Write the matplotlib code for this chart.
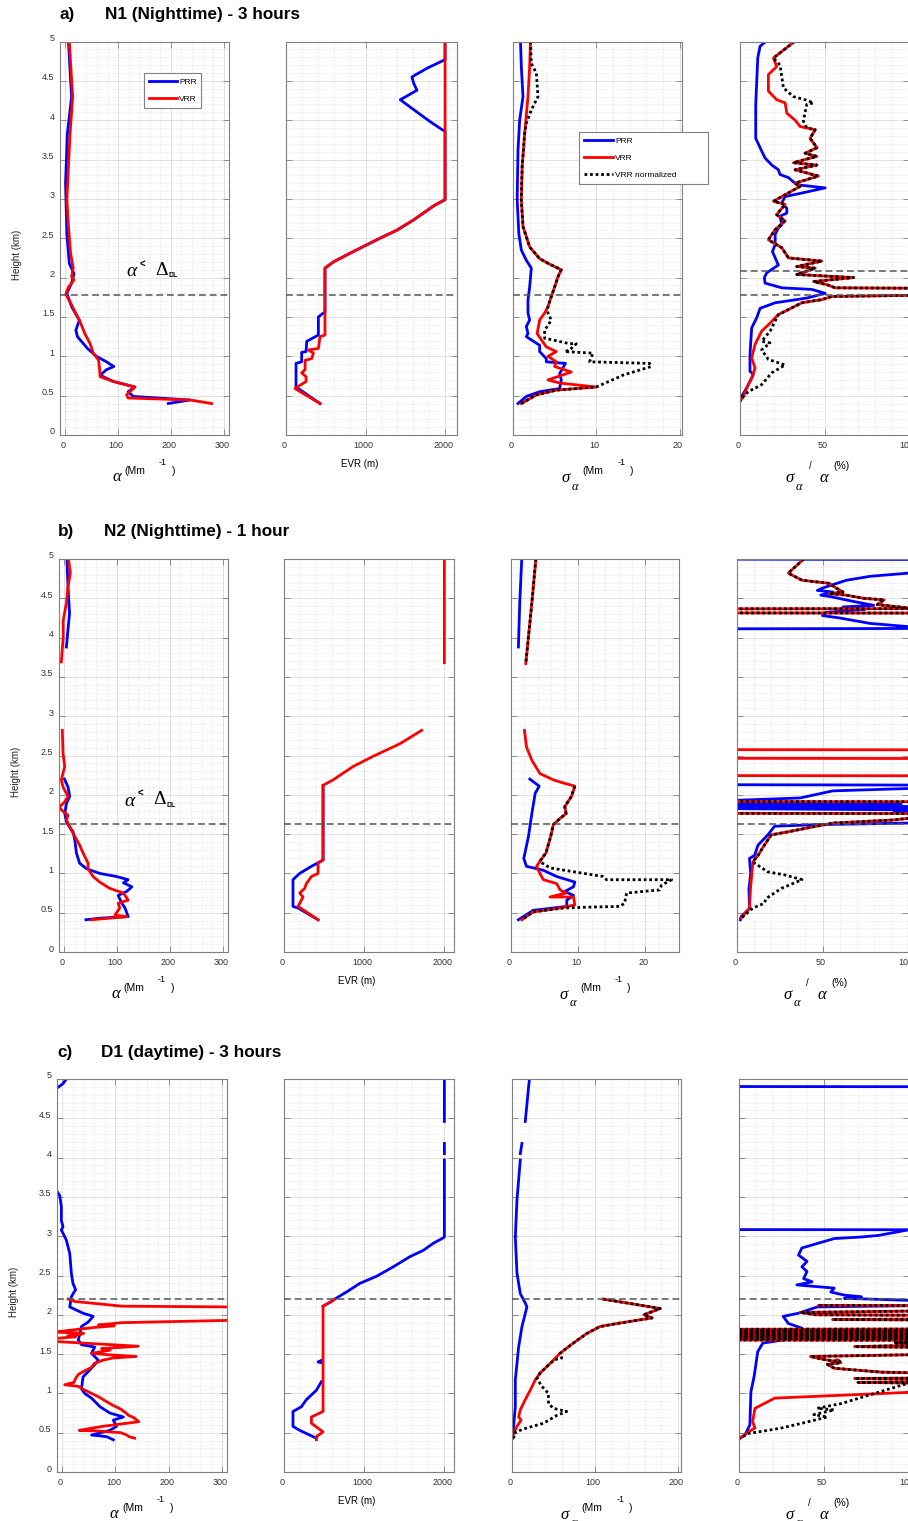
# plot.py  - lidar extinction / EVR / uncertainty profiles, 3 cases x 4 panels
import numpy as np
import matplotlib.pyplot as plt
import matplotlib.transforms as mtransforms
from matplotlib.lines import Line2D
from matplotlib.ticker import MultipleLocator

plt.rcParams['font.family'] = ['Liberation Sans', 'DejaVu Sans']

BLUE, RED = '#0000ff', '#ff0000'
NA = (np.nan, np.nan)
SERIF = ['Liberation Serif', 'DejaVu Serif']

# ---------------------------------------------------------------- data
# every list holds (height km, value) pairs; NA = gap

# ---- a) N1 nighttime, 3 h
a_alpha_prr = [(5.0, 6), (4.51, 10), (4.30, 12), (3.83, 4), (3.20, 0.5), (2.56, 3), (2.18, 7.6),
               (2.05, 16.5), (1.93, 12), (1.80, 3), (1.63, 12), (1.46, 26.6), (1.33, 20), (1.25, 23),
               (1.10, 42), (1.0, 59), (0.93, 78), (0.87, 92), (0.83, 78), (0.76, 66), (0.68, 91),
               (0.61, 132), (0.55, 119), (0.49, 129), (0.445, 236), (0.40, 195)]
a_alpha_vrr = [(5.0, 7.6), (4.51, 12), (4.30, 14), (3.83, 9), (3.41, 6), (2.99, 3), (2.65, 6),
               (2.31, 10), (2.12, 15), (2.01, 12), (1.97, 16.5), (1.88, 6), (1.79, 1), (1.69, 9),
               (1.57, 18), (1.44, 28), (1.29, 37), (1.16, 47), (1.04, 53), (0.95, 63), (0.87, 64.5),
               (0.74, 66), (0.68, 91), (0.61, 132), (0.51, 116), (0.47, 119), (0.445, 236), (0.40, 277)]
a_evr_prr = [(5.0, 2000), (4.77, 2000), (4.66, 1773), (4.55, 1584), (4.47, 1605), (4.38, 1647),
             (4.26, 1437), (4.15, 1584), (3.98, 1815), (3.88, 1962), (3.86, 2000), (2.99, 2000),
             (2.92, 1870), (2.73, 1600), (2.60, 1390), (2.48, 1140), (2.31, 806), (2.20, 597),
             (2.12, 490), (1.56, 490), (1.55, 470), (1.50, 407), (1.27, 407), (1.19, 261),
             (1.06, 252), (1.05, 197), (0.93, 197), (0.91, 126), (0.61, 126), (0.40, 428)]
a_evr_vrr = [(5.0, 2000), (2.99, 2000), (2.92, 1870), (2.73, 1600), (2.60, 1390), (2.48, 1140),
             (2.31, 806), (2.20, 597), (2.12, 490), (1.27, 490), (1.25, 428), (1.10, 407),
             (1.08, 282), (1.04, 345), (0.97, 323), (0.95, 240), (0.83, 240), (0.79, 197),
             (0.74, 252), (0.68, 252), (0.59, 113), (0.40, 428)]
a_sig_prr = [(5.0, 0.9), (4.68, 1.0), (4.3, 1.2), (4.0, 0.8), (3.62, 0.6), (2.99, 0.5), (2.56, 0.7),
             (2.35, 1.0), (2.22, 1.6), (2.12, 2.2), (1.88, 2.0), (1.72, 1.8), (1.55, 1.8),
             (1.46, 2.0), (1.38, 1.6), (1.29, 1.8), (1.25, 1.6), (1.14, 3.2), (1.06, 3.2),
             (0.97, 4.0), (0.93, 4.0), (0.91, 6.3), (0.78, 5.6), (0.70, 5.8), (0.59, 5.6),
             (0.55, 3.2), (0.49, 1.6), (0.40, 0.6)]
a_sig_vrr = [(5.0, 2.1), (4.68, 2.0), (4.3, 1.8), (3.83, 1.4), (3.41, 1.1), (2.99, 1.0), (2.65, 1.2),
             (2.39, 2.0), (2.24, 3.2), (2.16, 4.6), (2.10, 5.8), (2.01, 5.4), (1.88, 5.0),
             (1.76, 4.6), (1.63, 4.2), (1.55, 3.8), (1.46, 3.2), (1.29, 2.9), (1.21, 3.4),
             (1.12, 4.0), (1.06, 5.2), (1.0, 4.2), (0.93, 5.2), (0.87, 5.0), (0.80, 7.0),
             (0.70, 4.2), (0.66, 5.6), (0.61, 10), (0.57, 5.2), (0.51, 2.8), (0.40, 1.0)]
a_sig_norm = [(5.0, 2.1), (4.72, 2.2), (4.6, 2.8), (4.3, 3.0), (4.13, 2.2), (3.96, 1.6), (3.83, 1.4),
              (3.41, 1.1), (2.99, 1.0), (2.65, 1.2), (2.39, 2.0), (2.24, 3.2), (2.16, 4.6),
              (2.10, 5.8), (2.01, 5.4), (1.88, 5.0), (1.76, 4.6), (1.63, 4.2), (1.55, 4.2),
              (1.46, 4.6), (1.33, 3.8), (1.23, 3.8), (1.16, 6.8), (1.16, 7.6), (1.08, 6.8),
              (1.06, 6.2), (1.04, 9.6), (0.93, 9.2), (0.91, 16.4), (0.87, 16.6), (0.76, 13.2),
              (0.74, 12.8), (0.61, 10), (0.57, 5.2), (0.51, 2.8), (0.40, 1.0)]
a_rel_prr = [(5.0, 15.2), (4.94, 11.9), (4.79, 10.5), (4.2, 9.3), (3.77, 9.3), (3.65, 11.9),
             (3.52, 14.8), (3.43, 18.8), (3.37, 22.7), (3.31, 23.7), (3.27, 28.7), (3.18, 33.6),
             (3.14, 50.4), (3.07, 35.6), (3.03, 26.7), (2.95, 24.7), (2.88, 27.7), (2.82, 27.7),
             (2.78, 23.7), (2.67, 24.7), (2.63, 22.7), (2.55, 20.8), (2.42, 20.8), (2.33, 19.2),
             (2.16, 22.7), (2.06, 15.8), (2.0, 14.4), (1.93, 14.8), (1.87, 24.7), (1.85, 42.5),
             (1.80, 50.4), (1.74, 39.5), (1.68, 20.8), (1.61, 11.9), (1.49, 9.9), (1.36, 6.9),
             (1.02, 5.9), (0.81, 5.9), (0.77, 7.9), (0.60, 4), (0.49, 1), (0.43, 0)]
a_rel_vrr = [(5.0, 32.2), (4.94, 28.7), (4.79, 19.8), (4.68, 21.7), (4.58, 16.8), (4.37, 16.8),
             (4.26, 21.7), (4.22, 26.7), (4.09, 27.7), (4.0, 32.6), (3.92, 35.6), (3.90, 39.5),
             (3.88, 44.5), (3.77, 41.5), (3.65, 45.5), (3.58, 38.5), (3.54, 45.5), (3.46, 31.6),
             (3.43, 45.5), (3.37, 32.6), (3.29, 46.4), (3.20, 32.6), (3.16, 35.6), (2.97, 19.8),
             (2.93, 26.7), (2.80, 21.7), (2.72, 26.7), (2.61, 20.8), (2.48, 16.8), (2.38, 24.7),
             (2.25, 28.7), (2.21, 48.4), (2.14, 33.6), (2.12, 44.5), (2.04, 33.6), (2.0, 67.2),
             (1.95, 43.5), (1.91, 51.4), (1.87, 56.3), (1.86, 150), (1.79, 150), (1.76, 54.3),
             (1.72, 48.4), (1.68, 36.6), (1.53, 22.7), (1.40, 16.8), (1.32, 12.8), (1.15, 8.9),
             (0.98, 6.9), (0.85, 8.9), (0.72, 6.9), (0.64, 4.9), (0.49, 2), (0.43, 0)]
a_rel_norm = [(5.0, 32.2), (4.94, 28.7), (4.79, 19.8), (4.70, 23.7), (4.41, 25.7), (4.30, 31.6),
              (4.26, 38.5), (4.22, 43.5), (4.20, 39.5), (3.99, 37.5), (3.90, 39.5), (3.88, 44.5),
              (3.77, 41.5), (3.65, 45.5), (3.58, 38.5), (3.54, 45.5), (3.46, 31.6), (3.43, 45.5),
              (3.37, 32.6), (3.29, 46.4), (3.20, 32.6), (3.16, 35.6), (2.97, 19.8), (2.93, 26.7),
              (2.80, 21.7), (2.72, 26.7), (2.61, 20.8), (2.48, 16.8), (2.38, 24.7), (2.25, 28.7),
              (2.21, 48.4), (2.14, 33.6), (2.12, 44.5), (2.04, 33.6), (2.0, 67.2), (1.95, 43.5),
              (1.91, 51.4), (1.87, 56.3), (1.86, 150), (1.79, 150), (1.76, 54.3), (1.72, 48.4),
              (1.68, 36.6), (1.53, 22.7), (1.32, 17.8), (1.19, 12.8), (1.17, 17.8), (1.08, 12.8),
              (0.96, 16.8), (0.89, 26.7), (0.79, 18.8), (0.64, 12.8), (0.55, 4.9), (0.49, 2), (0.43, 0)]

# ---- b) N2 nighttime, 1 h
b_alpha_prr = [(5.0, 5), (4.65, 7), (4.31, 10), (4.1, 7), (3.88, 4), NA, (2.2, 0.4), (2.1, 7),
               (1.98, 10.3), (1.89, 4), (1.76, 1), (1.66, 4), (1.62, 7), (1.53, 16.6), (1.42, 20),
               (1.26, 23), (1.13, 29), (1.06, 42), (1.0, 67), (0.96, 99), (0.92, 121), (0.88, 112),
               (0.83, 128), (0.77, 118), (0.72, 102), (0.62, 109), (0.56, 115), (0.45, 121),
               (0.43, 67), (0.41, 41)]
b_alpha_vrr = [(5.0, 8), (4.82, 11.5), (4.65, 7), (4.44, 4), (4.22, -2), (4.01, -2), (3.69, -5.6), NA,
               (2.82, -3.7), (2.53, -2.4), (2.36, 0.8), (2.19, -5.6), (2.1, -2.4), (1.98, 7),
               (1.91, 0.8), (1.84, -10), (1.79, -2.4), (1.74, 7), (1.68, 4), (1.55, 13.4),
               (1.47, 20), (1.36, 29), (1.26, 35.6), (1.13, 45), (1.06, 45), (0.96, 54.6),
               (0.89, 67), (0.81, 86), (0.75, 112), (0.66, 121), (0.62, 102), (0.56, 105),
               (0.47, 96), (0.45, 118), (0.41, 51.5)]
b_evr_prr = [(2.12, 487), (1.17, 487), (1.09, 342), (1.0, 196), (0.92, 112), (0.58, 112),
             (0.56, 175), (0.41, 425)]
b_evr_vrr = [(5.0, 2000), (3.68, 2000), NA, (2.82, 1717), (2.65, 1446), (2.49, 1112), (2.36, 862),
             (2.19, 612), (2.12, 487), (1.17, 487), (1.13, 425), (1.0, 425), (0.96, 342),
             (0.87, 279), (0.81, 258), (0.75, 196), (0.70, 237), (0.58, 175), (0.41, 425)]
b_sig_prr = [(5.0, 1.6), (4.44, 1.3), (3.88, 1.1), NA, (2.2, 2.8), (2.11, 4.2), (2.02, 3.6),
             (1.76, 3.1), (1.47, 2.6), (1.19, 1.9), (1.09, 2.3), (1.04, 4.8), (0.96, 6.8),
             (0.89, 9.5), (0.83, 9.3), (0.77, 8.0), (0.72, 9.3), (0.66, 8.3), (0.58, 8.3),
             (0.53, 3.3), (0.41, 1.1)]
b_sig_vrr = [(5.0, 3.7), (4.44, 3.1), (3.67, 2.2), NA, (2.82, 2.0), (2.61, 2.3), (2.44, 3.1),
             (2.27, 4.3), (2.19, 6.3), (2.15, 7.8), (2.11, 9.5), (1.98, 9.0), (1.85, 8.0),
             (1.76, 8.2), (1.70, 7.3), (1.62, 6.3), (1.47, 5.9), (1.26, 5.2), (1.19, 4.6),
             (1.09, 3.8), (1.0, 4.3), (0.92, 4.8), (0.87, 6.8), (0.79, 7.3), (0.75, 8.2),
             (0.70, 5.8), (0.70, 9.3), (0.60, 9.5), (0.56, 7.3), (0.51, 3.3), (0.41, 1.6)]
b_sig_norm = [(5.0, 3.7), (4.44, 3.1), (3.67, 2.2), NA, (2.11, 9.5), (1.98, 9.0), (1.85, 8.0),
              (1.76, 8.2), (1.70, 7.3), (1.62, 6.3), (1.47, 5.9), (1.26, 5.2), (1.19, 4.6),
              (1.15, 4.3), (1.07, 5.8), (0.96, 13.7), (0.92, 14.2), (0.92, 23.9), (0.85, 22.4),
              (0.79, 22.1), (0.75, 17.2), (0.62, 16.9), (0.58, 16.2), (0.57, 11.2), (0.56, 7.8),
              (0.51, 3.3), (0.41, 1.6)]
b_rel_prr = [(5.0, -50), (4.99, 200), (4.86, 150), (4.82, 100), (4.78, 78), (4.73, 64), (4.63, 50),
             (4.60, 47), (4.58, 56), (4.54, 49), (4.52, 55), (4.46, 68), (4.41, 80), (4.39, 62),
             (4.36, 75), (4.32, 52), (4.28, 50), (4.25, 60), (4.18, 78), (4.14, 100), (4.12, 200),
             (4.11, -50), NA, (2.13, -50), (2.12, 200), (2.08, 100), (2.05, 56), (1.96, 37),
             (1.89, -50), (1.88, 96), (1.875, -50), (1.835, 200), (1.83, -50), (1.81, 90),
             (1.80, 100), (1.79, 92), (1.78, 200), (1.65, 120), (1.64, 100), (1.62, 46), (1.60, 22),
             (1.49, 18), (1.36, 12.3), (1.23, 10.3), (1.19, 7.3), (1.0, 8), (0.8, 7), (0.55, 7.3),
             (0.45, 2.4), (0.41, 2)]
b_rel_vrr = [(5.0, 39), (4.9, 34), (4.82, 30), (4.73, 38), (4.69, 54), (4.63, 58), (4.58, 62),
             (4.56, 54), (4.54, 64), (4.50, 74), (4.48, 86), (4.42, 82), (4.38, 99), (4.37, 200),
             (4.365, -50), (4.315, -50), (4.31, 200), NA, (2.575, -50), (2.57, 200), NA,
             (2.465, -50), (2.46, 200), NA, (2.245, -50), (2.24, 200), NA, (1.915, -50), (1.91, 200),
             NA, (1.765, -50), (1.76, 200), (1.70, 100), (1.68, 92), (1.64, 56), (1.59, 44),
             (1.53, 30), (1.49, 20), (1.36, 16), (1.23, 12.3), (1.15, 9.3), (0.81, 7.9), (0.56, 7.3),
             (0.43, 2.4)]
b_rel_norm = [(5.0, 39), (4.9, 34), (4.82, 30), (4.73, 38), (4.69, 54), (4.63, 58), (4.58, 62),
              (4.56, 54), (4.54, 64), (4.50, 74), (4.48, 86), (4.42, 82), (4.38, 99), (4.37, 200),
              (4.365, -50), (4.315, -50), (4.31, 200), NA, (1.915, -50), (1.91, 200), NA,
              (1.765, -50), (1.76, 200), (1.70, 100), (1.68, 92), (1.64, 56), (1.59, 44), (1.53, 30),
              (1.49, 20), (1.36, 16), (1.23, 12.3), (1.15, 9.3), (1.13, 10.3), (1.02, 18),
              (0.98, 28), (0.92, 38), (0.81, 26), (0.68, 17), (0.62, 16), (0.56, 9.3), (0.43, 2.4)]

# ---- c) D1 daytime, 3 h
c_alpha_prr = [(5.0, 7.6), (4.94, 1.3), (4.88, -11), NA, (3.57, -10), (3.52, -5), (3.38, -1.8),
               (3.2, -1.8), (3.12, 1.3), (3.08, -1.8), (2.95, 7.6), (2.78, 14), (2.53, 17),
               (2.4, 20), (2.32, 25), (2.23, 17), (2.1, 14), (2.02, 39), (1.98, 58), (1.91, 49),
               (1.85, 36), (1.76, 33), (1.68, 30), (1.62, 36), (1.59, 61), (1.51, 55), (1.42, 68),
               (1.3, 52), (1.21, 39), (1.06, 36), (1.0, 42), (0.94, 55), (0.83, 71), (0.75, 89.5),
               (0.70, 115), (0.66, 96), (0.58, 102), (0.53, 89.5), (0.47, 55), (0.45, 83), (0.41, 96)]
c_alpha_vrr = [(2.20, 11), (2.17, 23), (2.11, 112), (2.10, 320), (1.93, 320), (1.90, 112),
               (1.87, 68), (1.86, 98), (1.84, 62), (1.80, 10), (1.78, -12), (1.765, 40), (1.75, 35),
               (1.73, 10), (1.72, 25), (1.70, -12), (1.66, -12), (1.60, 143), (1.57, 74),
               (1.55, 90), (1.51, 55), (1.49, 90), (1.47, 139), (1.45, 95), (1.42, 75), (1.38, 60),
               (1.33, 55), (1.28, 40), (1.24, 30), (1.19, 25), (1.14, 22), (1.11, 4.6), (1.09, 30),
               (1.05, 40), (1.0, 55), (0.95, 70), (0.90, 82), (0.85, 95), (0.80, 110), (0.76, 118),
               (0.72, 125), (0.69, 135), (0.64, 144), (0.61, 110), (0.58, 75), (0.54, 40),
               (0.53, 32), (0.52, 70), (0.50, 110), (0.47, 122), (0.45, 125), (0.43, 136)]
c_evr_prr = [(5.0, 2000), (4.46, 2000), NA, (4.18, 2000), (4.05, 2000), NA, (3.97, 2000),
             (2.99, 2000), (2.98, 1988), (2.91, 1862), (2.82, 1737), (2.74, 1571), (2.61, 1362),
             (2.49, 1154), (2.40, 946), (2.29, 779), (2.2, 633), (2.17, 592), (2.11, 487), NA,
             (1.42, 467), (1.40, 425), (1.39, 467), NA, (1.15, 467), (1.04, 404), (0.92, 279),
             (0.83, 217), (0.77, 112), (0.58, 112), (0.53, 196), (0.43, 404)]
c_evr_vrr = [(2.2, 633), (2.17, 592), (2.11, 487), (0.77, 487), (0.70, 342), (0.62, 342),
             (0.51, 487), (0.45, 404), (0.41, 404)]
c_sig_prr = [(5.0, 21), (4.46, 16), NA, (4.18, 12), (4.05, 10), NA, (3.97, 10), (3.46, 6), (2.99, 4),
             (2.53, 6), (2.27, 10), (2.15, 16), (2.10, 18), (1.85, 12), (1.59, 8), (1.17, 4),
             (0.83, 4), (0.49, 1.2), (0.43, 0)]
c_sig_vrr = [(2.2, 110), (2.08, 179), (2.0, 159), (1.96, 169), (1.89, 127), (1.85, 106), (1.76, 90),
             (1.64, 74), (1.51, 58), (1.38, 46), (1.26, 34), (1.17, 28), (1.04, 22), (0.92, 16),
             (0.79, 10), (0.70, 8), (0.66, 11), (0.58, 6), (0.49, 2), (0.43, 0.8)]
c_sig_norm = [(2.2, 110), (2.08, 179), (2.0, 159), (1.96, 169), (1.89, 127), (1.85, 106), (1.76, 90),
              (1.64, 74), (1.51, 58), (1.45, 60), (1.43, 52), (1.38, 46), (1.26, 34), (1.19, 30),
              (1.09, 36), (1.0, 44), (0.87, 44), (0.81, 50), (0.77, 66), (0.72, 54), (0.62, 38),
              (0.56, 18), (0.51, 4), (0.43, 2)]
c_rel_prr = [(4.905, -50), (4.90, 200), NA, (3.085, -50), (3.08, 200), (3.03, 150), (3.02, 100),
             (3.01, 82), (2.99, 72), (2.97, 56), (2.85, 37), (2.76, 35), (2.68, 40), (2.61, 37),
             (2.55, 40), (2.46, 38), (2.42, 43), (2.38, 34), (2.36, 45), (2.34, 56), (2.29, 54),
             (2.25, 62), (2.23, 72), (2.21, 62), (2.15, 150), (2.13, 150), (2.10, 46), (2.02, 35),
             (1.98, 26), (1.89, 29), (1.83, 37), (1.79, 33), (1.70, 32), (1.64, 14), (1.53, 11),
             (1.23, 9), (1.02, 7), (0.6, 6.4), (0.47, 3.5), (0.43, 0.6)]
c_rel_vrr = [(2.12, 47), (2.115, 150), (2.06, 150), (2.03, 36), (2.0, 45), (1.99, 150), (1.95, 150),
             (1.94, 55), (1.93, 150), (1.82, 150), (1.815, -30), (1.80, -30), (1.795, 150),
             (1.78, 150), (1.775, -30), (1.76, -30), (1.755, 150), (1.74, 150), (1.735, -30),
             (1.72, -30), (1.715, 150), (1.70, 150), (1.695, -30), (1.68, -30), (1.675, 150),
             (1.645, 92), (1.635, 150), (1.595, 68), (1.575, 150), (1.51, 150), (1.47, 42),
             (1.44, 48), (1.41, 56), (1.43, 58), (1.39, 60), (1.37, 52), (1.32, 56), (1.27, 84),
             (1.24, 150), (1.20, 150), (1.19, 68), (1.17, 150), (1.15, 150), (1.14, 70),
             (1.12, 150), (1.06, 150), (0.94, 21), (0.81, 9.4), (0.64, 8), (0.56, 9.4),
             (0.51, 5.5), (0.43, 0.6)]
c_rel_norm = [(2.12, 47), (2.115, 150), (2.06, 150), (2.03, 36), (2.0, 45), (1.99, 150), (1.95, 150),
              (1.94, 55), (1.93, 150), (1.82, 150), (1.815, -30), (1.80, -30), (1.795, 150),
              (1.78, 150), (1.775, -30), (1.76, -30), (1.755, 150), (1.74, 150), (1.735, -30),
              (1.72, -30), (1.715, 150), (1.70, 150), (1.695, -30), (1.68, -30), (1.675, 150),
              (1.645, 92), (1.635, 150), (1.595, 68), (1.575, 150), (1.51, 150), (1.47, 42),
              (1.44, 48), (1.41, 56), (1.43, 58), (1.39, 60), (1.37, 52), (1.32, 56), (1.27, 84),
              (1.24, 150), (1.20, 150), (1.19, 68), (1.17, 150), (1.15, 150), (1.14, 70),
              (1.12, 150), (1.06, 150), (1.03, 150), (1.0, 100), (0.87, 60), (0.81, 46), (0.79, 56),
              (0.73, 44), (0.70, 52), (0.62, 37), (0.56, 25), (0.53, 17), (0.49, 5.5), (0.43, 0.6)]

# height of the "alpha < detection limit" threshold per case
a_dl, b_dl, c_dl = [1.78], [1.63], [2.2]
a_dl_rel = [1.78, 2.08]

ROWS = [
    dict(tag='a)', title='N1 (Nighttime) - 3 hours', ty=14, tagx=60, titlex=105,
         top=41.5, bot=435, xs=[60, 286, 513, 740], ws=[169, 171, 169, 169],
         alpha=(a_alpha_prr, a_alpha_vrr), evr=(a_evr_prr, a_evr_vrr),
         sig=(a_sig_prr, a_sig_vrr, a_sig_norm), rel=(a_rel_prr, a_rel_vrr, a_rel_norm),
         dl=a_dl, dl_rel=a_dl_rel, evr_lim=2150, sig_lim=20.3, sig_major=10, sig_minor=2,
         note=(0.423, 0.415)),
    dict(tag='b)', title='N2 (Nighttime) - 1 hour', ty=532, tagx=58, titlex=104,
         top=559, bot=952, xs=[59, 284, 511, 737], ws=[169, 170, 168, 171],
         alpha=(b_alpha_prr, b_alpha_vrr), evr=(b_evr_prr, b_evr_vrr),
         sig=(b_sig_prr, b_sig_vrr, b_sig_norm), rel=(b_rel_prr, b_rel_vrr, b_rel_norm),
         dl=b_dl, dl_rel=b_dl, evr_lim=2120, sig_lim=25.0, sig_major=10, sig_minor=2,
         note=(0.42, 0.384)),
    dict(tag='c)', title='D1 (daytime) - 3 hours', ty=1052, tagx=57, titlex=101,
         top=1079, bot=1472, xs=[57, 284, 512, 739], ws=[170, 170, 169, 170],
         alpha=(c_alpha_prr, c_alpha_vrr), evr=(c_evr_prr, c_evr_vrr),
         sig=(c_sig_prr, c_sig_vrr, c_sig_norm), rel=(c_rel_prr, c_rel_vrr, c_rel_norm),
         dl=c_dl, dl_rel=c_dl, evr_lim=2120, sig_lim=204, sig_major=100, sig_minor=20,
         note=None),
]

W, H = 908, 1521
LW = 2.0
DOT = (0, (1, 1))
GRID = '#7f7f7f'


def xy(pairs):
    arr = np.array(pairs, dtype=float)
    return arr[:, 1], arr[:, 0]


def style(ax, fig, xlim, major, minor, ylabels):
    ax.set_xlim(*xlim)
    ax.set_ylim(0, 5)
    ax.xaxis.set_major_locator(MultipleLocator(major))
    ax.xaxis.set_minor_locator(MultipleLocator(minor))
    ax.yaxis.set_major_locator(MultipleLocator(0.5))
    ax.yaxis.set_minor_locator(MultipleLocator(0.1))
    ax.grid(which='major', color='#d4d4d4', lw=0.5, ls='-')
    ax.grid(which='minor', color='#dadada', lw=0.5, ls=':')
    ax.tick_params(which='major', direction='in', length=4, width=0.6, color=GRID,
                   top=True, right=True, labelsize=6.5, labelcolor='#333333', pad=4)
    ax.tick_params(which='minor', length=0)
    for s in ax.spines.values():
        s.set_color(GRID)
        s.set_linewidth(0.8)
    ax.yaxis.set_major_formatter(plt.FuncFormatter(lambda v, p: f'{v:g}'))
    if not ylabels:
        ax.tick_params(labelleft=False)
    dx = mtransforms.ScaledTranslation(-2 / 100, 0, fig.dpi_scale_trans)
    for lab in ax.get_xticklabels():
        lab.set_transform(lab.get_transform() + dx)
    dy = mtransforms.ScaledTranslation(0, 4 / 100, fig.dpi_scale_trans)
    for lab in ax.get_yticklabels():
        lab.set_transform(lab.get_transform() + dy)


def txt(ax, x, y, s, size, **kw):
    ax.text(x, y, s, transform=ax.transAxes, fontsize=size, ha='center', va='center',
            clip_on=False, **kw)


def hlines(ax, heights):
    for h in heights:
        ax.axhline(h, color='#555555', lw=1.1, ls=(0, (4.5, 2.5)), zorder=5)


fig = plt.figure(figsize=(W / 100, H / 100), dpi=100)

for row in ROWS:
    fig.text(row['tagx'] / W, 1 - row['ty'] / H, row['tag'], fontsize=12.3, fontweight='bold',
             va='center')
    fig.text(row['titlex'] / W, 1 - row['ty'] / H, row['title'], fontsize=12.3,
             fontweight='bold', va='center')
    axes = []
    for x0, w in zip(row['xs'], row['ws']):
        axes.append(fig.add_axes([x0 / W, 1 - row['bot'] / H, w / W,
                                  (row['bot'] - row['top']) / H]))
    ax1, ax2, ax3, ax4 = axes

    # extinction
    for pairs, c in zip(row['alpha'], (BLUE, RED)):
        ax1.plot(*xy(pairs), color=c, lw=LW)
    style(ax1, fig, (-10, 310), 100, 20, True)
    ax1.text(-43 / 169, 0.458, 'Height (km)', transform=ax1.transAxes, rotation=90,
             fontsize=7, ha='center', va='center', color='#222222')
    txt(ax1, 0.337, -0.107, 'α', 12, family=SERIF, style='italic')
    txt(ax1, 0.444, -0.092, '(Mm', 7.5)
    txt(ax1, 0.609, -0.071, '-1', 6.5)
    txt(ax1, 0.675, -0.092, ')', 7.5)
    if row['note']:
        nx, ny = row['note']
        txt(ax1, nx, ny, 'α', 14, family=SERIF, style='italic')
        txt(ax1, nx + 0.062, ny + 0.018, '<', 7, fontweight='bold')
        txt(ax1, nx + 0.178, ny + 0.003, 'Δ', 14, family=SERIF)
        txt(ax1, nx + 0.245, ny - 0.01, 'DL', 5, fontweight='bold')
    hlines(ax1, row['dl'])

    # effective vertical resolution
    for pairs, c in zip(row['evr'], (BLUE, RED)):
        ax2.plot(*xy(pairs), color=c, lw=LW)
    style(ax2, fig, (0, row['evr_lim']), 1000, 200, False)
    txt(ax2, 0.43, -0.074, 'EVR (m)', 7)
    hlines(ax2, row['dl'])

    # absolute uncertainty
    for pairs, c, ls in zip(row['sig'], (BLUE, RED, 'k'), ('-', '-', DOT)):
        ax3.plot(*xy(pairs), color=c, lw=LW, ls=ls)
    style(ax3, fig, (0, row['sig_lim']), row['sig_major'], row['sig_minor'], False)
    txt(ax3, 0.314, -0.109, 'σ', 12, family=SERIF, style='italic')
    txt(ax3, 0.367, -0.131, 'α', 9, family=SERIF, style='italic')
    txt(ax3, 0.473, -0.092, '(Mm', 7.5)
    txt(ax3, 0.64, -0.071, '-1', 6.5)
    txt(ax3, 0.70, -0.092, ')', 7.5)
    hlines(ax3, row['dl'])

    # relative uncertainty
    for pairs, c, ls in zip(row['rel'], (BLUE, RED, 'k'), ('-', '-', DOT)):
        ax4.plot(*xy(pairs), color=c, lw=LW, ls=ls)
    style(ax4, fig, (0, 100), 50, 10, False)
    txt(ax4, 0.296, -0.109, 'σ', 12, family=SERIF, style='italic')
    txt(ax4, 0.35, -0.131, 'α', 9, family=SERIF, style='italic')
    txt(ax4, 0.414, -0.079, '/', 7)
    txt(ax4, 0.497, -0.109, 'α', 12, family=SERIF, style='italic')
    txt(ax4, 0.60, -0.079, '(%)', 7.5)
    hlines(ax4, row['dl_rel'])

    if row['tag'] == 'a)':
        h_prr = Line2D([], [], color=BLUE, lw=LW)
        h_vrr = Line2D([], [], color=RED, lw=LW)
        h_norm = Line2D([], [], color='k', lw=LW, ls=DOT)
        leg_kw = dict(loc='upper left', mode='expand', fontsize=6, handletextpad=0.3,
                      borderpad=0.6, labelspacing=1.1, fancybox=False, edgecolor='#808080',
                      framealpha=1)
        l1 = ax1.legend([h_prr, h_vrr], ['PRR', 'VRR'], bbox_to_anchor=(0.473, 0.931, 0.385, 0),
                        handlelength=3.3, **leg_kw)
        l1.get_frame().set_linewidth(0.8)
        l3 = ax3.legend([h_prr, h_vrr, h_norm], ['PRR', 'VRR', 'VRR normalized'],
                        bbox_to_anchor=(0.367, 0.781, 0.811, 0), handlelength=3.4, **leg_kw)
        l3.get_frame().set_linewidth(0.8)
        l3.set_zorder(10)

fig.savefig('out.png', dpi=100)
